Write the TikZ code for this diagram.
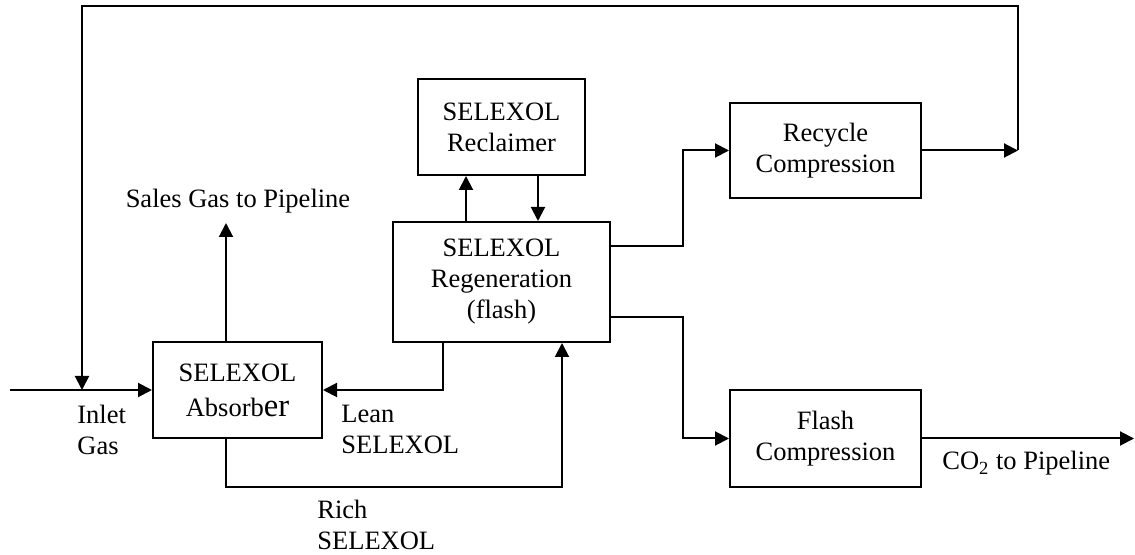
\documentclass[tikz,border=0pt]{standalone}
\usepackage{fontspec}
\setmainfont{Liberation Serif}
\usetikzlibrary{positioning,arrows.meta,calc}
\newcommand{\procfont}{\fontsize{13.25}{15.5}\selectfont}
\tikzset{
  unit/.style ={rectangle,draw,line width=1pt,align=center,inner sep=0pt,
                font=\procfont},
  flow/.style ={-{Triangle[length=7pt,width=7pt]},line width=1pt},
  tag/.style  ={inner sep=0pt,align=left,font=\procfont},
}

\begin{document}
\begin{tikzpicture}[x=0.5pt,y=-0.5pt]
  \useasboundingbox (0,0) rectangle (1135,555);

  % ---- process units ---------------------------------------------------
  \node[unit,minimum width=83.5pt,minimum height=48pt] (reclaimer) at (501.5,127)
    {SELEXOL\\Reclaimer};
  \node[unit,minimum width=95.5pt,minimum height=47.5pt] (recycle) at (825.5,150.5)
    {Recycle\\Compression};
  \node[unit,minimum width=108.5pt,minimum height=60pt] (regen) at (501.5,282)
    {SELEXOL\\Regeneration\\(flash)};
  \node[unit,minimum width=84.5pt,minimum height=48pt] (absorber) at (237.5,390)
    {SELEXOL\\[2pt]Absorb{\fontsize{16.3}{15.5}\selectfont er}};
  \node[unit,minimum width=95.5pt,minimum height=48.5pt] (flash) at (825.5,438.5)
    {Flash\\Compression};

  % ---- free ends -------------------------------------------------------
  \coordinate (gasin)    at (10,390);
  \coordinate (mix)      at (82,390);
  \coordinate (loop)     at (82,6);
  \coordinate (rcyout)   at (1018,150.5);
  \coordinate (salesout) at (226,223);
  \coordinate (co2out)   at (1134,438.5);

  % ---- streams ---------------------------------------------------------
  \draw[flow] (gasin) -- (absorber.west);
  \draw[flow] (recycle.east) -- (rcyout);
  \draw[flow] (rcyout) |- (loop) -- (mix);
  \draw[flow] (absorber.north -| salesout) -- (salesout);
  \draw[flow] ($(regen.south)+(-58.5,0)$) |- (absorber.east);
  \draw[flow] ($(absorber.south)+(-11.5,0)$) -- ++(0,48) -| ($(regen.south)+(60.5,0)$);
  \draw[flow] ($(regen.north)+(-35.5,0)$) -- ($(reclaimer.south)+(-35.5,0)$);
  \draw[flow] ($(reclaimer.south)+(36.5,0)$) -- ($(regen.north)+(36.5,0)$);
  \draw[flow] ($(regen.east)+(0,-36)$) -- ++(72,0) |- (recycle.west);
  \draw[flow] ($(regen.east)+(0,35)$) -- ++(72,0) |- (flash.west);
  \draw[flow] (flash.east) -- (co2out);

  % ---- stream tags -----------------------------------------------------
  \node[tag,anchor=base] (saleslbl) at (238,208) {Sales Gas to Pipeline};
  \node[tag,anchor=north west] (inletlbl) at (77,405) {Inlet\\Gas};
  \node[tag,anchor=north west] (leanlbl) at (341,405) {Lean\\SELEXOL};
  \node[tag,anchor=north west] (richlbl) at (317,500) {Rich\\SELEXOL};
  \node[tag,anchor=base west] (co2lbl) at (942,470) {CO\textsubscript{2} to Pipeline};
\end{tikzpicture}
\end{document}
